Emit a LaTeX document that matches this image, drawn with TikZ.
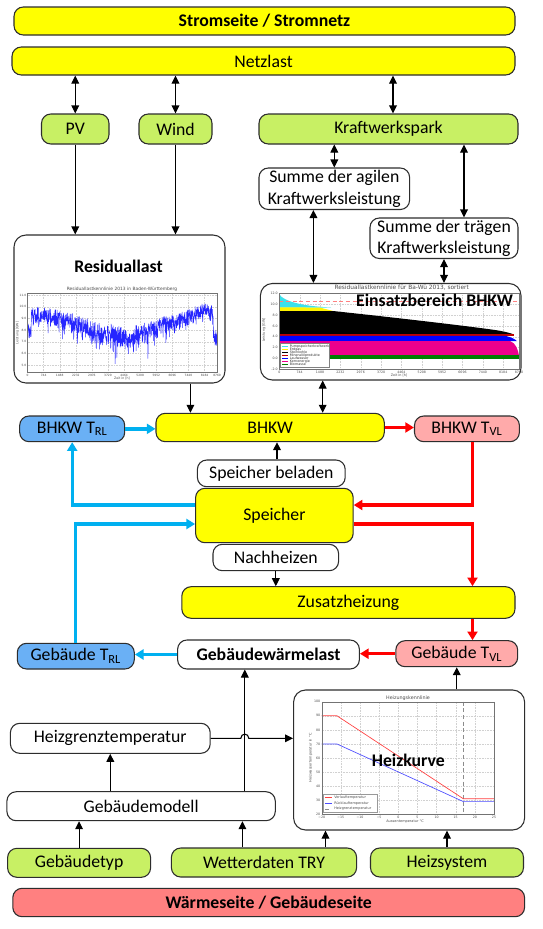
\documentclass[tikz,border=0pt]{standalone}
\usepackage{fontspec}
\setmainfont{Carlito}
\newfontfamily\plotfont{DejaVu Sans}
\usetikzlibrary{arrows.meta,calc}
\definecolor{cYel}{RGB}{255,255,0}
\definecolor{cGrn}{RGB}{200,240,100}
\definecolor{cBlu}{RGB}{106,176,245}
\definecolor{cPnk}{RGB}{255,170,170}
\definecolor{cSal}{RGB}{255,128,128}
\definecolor{cCya}{RGB}{0,176,240}
\definecolor{cRed}{RGB}{255,0,0}
\definecolor{cBrd}{RGB}{45,45,45}
\definecolor{pCyan}{RGB}{60,225,235}
\definecolor{pRed}{RGB}{190,0,0}
\definecolor{pGreen}{RGB}{0,125,0}
\newcommand\fs{\fontsize{13.3}{16.3}\selectfont}
\newcommand\PlF[1]{\plotfont\fontsize{#1}{#1}\selectfont}
\newcommand\PBx[7]{\node[#2, minimum width={(#5-#3)*0.75pt}, minimum height={(#6-#4)*0.75pt}] (#1) at ({(#3+#5)/2},{(#4+#6)/2}) {#7};}
\begin{document}
\begin{tikzpicture}[x=0.75pt,y=-0.75pt,
  bx/.style={draw=cBrd, line width=0.8pt, rounded corners=7pt, inner sep=0pt, align=center, font=\fs},
  bxb/.style={bx, font=\fs\bfseries},
  chartbox/.style={bx, rounded corners=9pt, fill=white},
  arr/.style={draw=black, line width=0.8pt, -{Triangle[width=5.8pt,length=6pt]}},
  darr/.style={draw=black, line width=0.8pt, {Triangle[width=5.8pt,length=6pt]}-{Triangle[width=5.8pt,length=6pt]}},
  carr/.style={draw=cCya, line width=2.5pt, -{Triangle[width=7.5pt,length=6.5pt]}},
  rarr/.style={draw=cRed, line width=2.5pt, -{Triangle[width=7.5pt,length=6.5pt]}},
  gridl/.style={draw=black!18, line width=0.2pt, densely dotted},
  frame/.style={draw=black!55, line width=0.3pt},
  tick/.style={inner sep=0pt, text=black!70},
  bigtitle/.style={inner sep=0pt, font=\fs\bfseries},
  declare function={
    resu(\t)=0.15+0.24*exp(-((\t-0.5)/0.27)*((\t-0.5)/0.27))-0.06*exp(-((\t-0.92)/0.05)*((\t-0.92)/0.05))+0.3*(\t>0.98)+0.22*(\t<0.02);
    resd(\t)=0.42+0.2*exp(-((\t-0.5)/0.25)*((\t-0.5)/0.25));
  }]
\useasboundingbox (0,0) rectangle (543,929);
\fill[white] (0,0) rectangle (543,929);

% ---------- nodes ----------
\PBx{strom}{bxb,fill=cYel}{14}{7}{515}{35}{Stromseite / Stromnetz}
\PBx{netz}{bx,fill=cYel}{12}{47}{515}{75}{Netzlast}
\PBx{pv}{bx,fill=cGrn}{41.5}{114}{109}{144}{PV}
\PBx{wind}{bx,fill=cGrn}{139}{114}{212}{144}{Wind}
\PBx{kw}{bx,fill=cGrn}{259}{114}{518}{144}{Kraftwerkspark}
\PBx{agil}{bx,fill=white}{259}{168}{409.6}{209.5}{Summe der agilen\\Kraftwerksleistung}
\PBx{traeg}{bx,fill=white}{370}{218}{518}{258.5}{Summe der trägen\\Kraftwerksleistung}
\PBx{res}{chartbox}{14}{235}{225}{383}{}
\PBx{eins}{chartbox}{260.4}{283.5}{521}{380}{}
\PBx{bhkw}{bx,fill=cYel}{156}{413.3}{384.3}{441.7}{BHKW}
\PBx{btrl}{bx,fill=cBlu}{19.7}{416}{124.7}{441.7}{BHKW T\textsubscript{RL}}
\PBx{btvl}{bx,fill=cPnk}{414.5}{416}{519.4}{441.7}{BHKW T\textsubscript{VL}}
\PBx{belad}{bx,fill=white}{197.4}{460}{345.2}{486.7}{Speicher beladen}
\PBx{spei}{bx,fill=cYel}{195.6}{488.3}{353.2}{542.7}{Speicher}
\PBx{nach}{bx,fill=white}{213}{544.3}{338.6}{570.7}{Nachheizen}
\PBx{zus}{bx,fill=cYel}{181.8}{586.7}{515}{618.3}{Zusatzheizung}
\PBx{gtvl}{bx,fill=cPnk}{395.8}{640.7}{517.7}{666.7}{Gebäude T\textsubscript{VL}}
\PBx{gwl}{bxb,fill=white}{177.6}{640}{359.4}{669}{Gebäudewärmelast}
\PBx{gtrl}{bx,fill=cBlu}{17.3}{643.3}{134.3}{669}{Gebäude T\textsubscript{RL}}
\PBx{hk}{chartbox}{293.6}{690}{524.6}{830}{}
\PBx{hgt}{bx,fill=white}{10.4}{723.3}{210.2}{753.3}{Heizgrenztemperatur}
\PBx{gm}{bx,fill=white}{6.9}{791.7}{275.3}{820.7}{Gebäudemodell}
\PBx{gtyp}{bx,fill=cGrn}{7.6}{848.3}{150.6}{877.3}{Gebäudetyp}
\PBx{wet}{bx,fill=cGrn}{171.4}{848}{356.6}{877}{Wetterdaten TRY}
\PBx{hsys}{bx,fill=cGrn}{370.5}{848}{523.5}{877}{Heizsystem}
\PBx{waerme}{bxb,fill=cSal}{12.8}{888.3}{524.6}{916.7}{Wärmeseite / Gebäudeseite}

% ---------- chart: Residuallast ----------
\pgfmathsetseed{11}
\foreach \h in {0,744,1488,2232,2976,3720,4464,5208,5952,6696,7440,8184,8760}{
  \draw[gridl] ({27.5+(\h/8760)*189.5},293.5) -- ++(0,79);
  \node[tick,font=\PlF{2.2}] at ({27.5+(\h/8760)*189.5},375) {\h};
}
\foreach \v [count=\i from 0] in {11.0,10.0,9.0,8.0,7.0,6.0,5.0}{
  \draw[gridl] (27.5,{295+11.67*\i}) -- (217,{295+11.67*\i});
  \node[tick,font=\PlF{2.2},anchor=east] at (26.5,{295+11.67*\i}) {\v};
}
\draw[blue!85!white, line width=0.35pt] plot[domain=0:1, samples=800, variable=\t]
  ({27.5+189.5*\t},{293.5+79*min(0.97, resu(\t)+resd(\t)*(0.45*rnd+0.55*rnd*rnd*rnd))});
\draw[frame] (27.5,293.5) rectangle (217,372.5);
\node[tick,font=\PlF{3.3}] at (122,289.5) {Residuallastkennlinie 2013 in Baden-Württemberg};
\node[tick,font=\PlF{2.4}] at (122,378) {Zeit in [h]};
\node[tick,font=\PlF{2.4},rotate=90] at (17.5,333) {Leistung [GW]};
\node[bigtitle] (restitle) at (118.5,266.7) {Residuallast};

% ---------- chart: Einsatzbereich ----------
\foreach \h in {0,744,1488,2232,2976,3720,4464,5208,5952,6696,7440,8184,8760}{
  \draw[gridl] ({279.3+(\h/8760)*239.7},293.3) -- ++(0,76);
  \node[tick,font=\PlF{2.4}] at ({279.3+(\h/8760)*239.7},372.3) {\h};
}
\foreach \v [count=\i from 0] in {12.0,10.0,8.0,6.0,4.0,2.0,0.0,-2.0}{
  \draw[gridl] (279.3,{293.3+10.86*\i}) -- (519,{293.3+10.86*\i});
  \node[tick,font=\PlF{2.4},anchor=east] at (278,{293.3+10.86*\i}) {\v};
}
\fill[pCyan] (279.3,294.5) .. controls (284,301) and (300,306) .. (331,307.5) -- (279.3,307.5) -- cycle;
\fill[yellow] (279.3,307.3) -- (320,307.6) -- (334,311.2) -- (279.3,311.2) -- cycle;
\fill[black] (279.3,311) -- (333,311) .. controls (380,316) and (460,325) .. (495,330) .. controls (505,331.5) and (510,333) .. (514,334.5) -- (279.3,334.5) -- cycle;
\fill[pRed] (279.3,334.3) rectangle (514,336);
\fill[blue] (279.3,335.8) -- (505,335.8) .. controls (511,337) and (515,339) .. (517,341.2) -- (279.3,341.2) -- cycle;
\fill[magenta] (279.3,341) -- (510,341) .. controls (516,343) and (518,350) .. (519,355.5) -- (279.3,355.5) -- cycle;
\fill[pGreen] (279.3,355.3) rectangle (519,358.6);
\draw[red!50, line width=0.3pt, densely dashed] (279.3,301) -- (519,301);
\draw[frame] (279.3,293.3) rectangle (519,369.3);
\draw[black!50, line width=0.2pt, fill=white] (280.5,343.5) rectangle (329.5,367.5);
\foreach \c/\n [count=\i from 0] in {pCyan/Pumpspeicherkraftwerk,yellow/Erdgas,black/Steinkohle,pRed/Mineralölprodukte,blue/Laufwasser,magenta/Kernenergie,pGreen/Biomasse}{
  \fill[\c] (282,{345.5+3*\i}) rectangle (288,{347+3*\i});
  \node[tick,font=\PlF{2.5},anchor=west,text=black!80] at (289.5,{346.3+3*\i}) {\n};
}
\node[tick,font=\PlF{4.4}] at (401.7,287.3) {Residuallastkennlinie für Ba-Wü 2013, sortiert};
\node[tick,font=\PlF{2.5}] at (399,375.6) {Zeit in [h]};
\node[tick,font=\PlF{2.5},rotate=90] at (264,330) {Leistung [GW]};
\node[bigtitle] (einstitle) at (434.6,300.7) {Einsatzbereich BHKW};

% ---------- chart: Heizkurve ----------
\foreach \T in {-20,-15,-10,-5,0,5,10,15,20,25}{
  \draw[gridl] ({321.7+(\T+20)*3.829},701.7) -- ++(0,112.6);
}
\foreach \T/\L in {-20/−20,-15/−15,-10/−10,-5/−5,0/0,5/5,10/10,15/15,20/20,25/25}{
  \node[tick,font=\PlF{2.4}] at ({321.7+(\T+20)*3.829},817.6) {\L};
}
\foreach \V in {20,30,40,50,60,70,80,90,100}{
  \draw[gridl] (321.7,{814.3-(\V-20)*1.4075}) -- (494,{814.3-(\V-20)*1.4075});
  \node[tick,font=\PlF{2.4},anchor=east] at (320.5,{814.3-(\V-20)*1.4075}) {\V};
}
\draw[black!45, line width=0.4pt, densely dashed] (463.4,701.7) -- (463.4,814.3);
\draw[red!75, line width=0.5pt] (321.7,715.8) -- (337,715.8) -- (463.4,798.8) -- (494,798.8);
\draw[blue!70, line width=0.5pt] (321.7,744) -- (337,744) -- (463.4,801.6) -- (494,801.6);
\draw[frame] (321.7,701.7) rectangle (494,814.3);
\draw[black!40, line width=0.2pt, fill=white] (323,794.5) rectangle (377,812.5);
\draw[red!75, line width=0.4pt] (325,797.7) -- (331.5,797.7);
\draw[blue!70, line width=0.4pt] (325,803.3) -- (331.5,803.3);
\draw[black!45, line width=0.4pt, densely dashed] (325,809) -- (331.5,809);
\node[tick,font=\PlF{2.6},anchor=west] at (334,797.7) {Vorlauftemperatur};
\node[tick,font=\PlF{2.6},anchor=west] at (334,803.3) {Rücklauftemperatur};
\node[tick,font=\PlF{2.6},anchor=west] at (334,809) {Heizgrenztemperatur};
\node[tick,font=\PlF{3.6}] at (408,697.7) {Heizungskennlinie};
\node[tick,font=\PlF{2.6}] at (405,821.7) {Aussentemperatur °C};
\node[tick,font=\PlF{2.6},rotate=90] at (310.7,758) {Heizwassertemperatur in °C};
\node[bigtitle] (hktitle) at (408.3,760) {Heizkurve};

% ---------- helper coordinates ----------
\coordinate (X1) at (393,0);
\coordinate (X2) at (464,0);
\coordinate (X3) at (313.4,0);
\coordinate (X4) at (190.4,0);
\coordinate (X5) at (322.7,0);
\coordinate (X6) at (277,0);
\coordinate (X7) at (244.8,0);
\coordinate (X8) at (242.4,0);
\coordinate (X9) at (325.5,0);
\coordinate (X10) at (472.5,0);
\coordinate (Y1) at (0,505);
\coordinate (Y2) at (0,524);

% ---------- black connectors ----------
\draw[darr] (netz.south -| pv.north) -- (pv.north);
\draw[darr] (netz.south -| wind.north) -- (wind.north);
\draw[darr] (netz.south -| X1) -- (kw.north -| X1);
\draw[darr] (kw.south -| agil.north) -- (agil.north);
\draw[darr] (kw.south -| X2) -- (traeg.north -| X2);
\draw[darr] (agil.south -| X3) -- (eins.north -| X3);
\draw[darr] (traeg.south) -- (eins.north -| traeg.south);
\draw[arr] (pv.south) -- (res.north -| pv.south);
\draw[arr] (wind.south) -- (res.north -| wind.south);
\draw[arr] (res.south -| X4) -- (bhkw.north -| X4);
\draw[darr] (eins.south -| X5) -- (bhkw.north -| X5);
\draw[arr] (belad.north -| X6) -- (bhkw.south -| X6);
\draw[arr] (nach.south) -- (zus.north -| nach.south);
\draw[arr] (hk.north -| gtvl.south) -- (gtvl.south);
\draw[arr] (gm.north -| hgt.south) -- (hgt.south);
\draw[arr] (gm.north -| X7) -- (gwl.south -| X7);
\draw[arr] (gtyp.north) -- (gm.south -| gtyp.north);
\draw[arr] (wet.north -| X8) -- (gm.south -| X8);
\draw[arr] (wet.north -| X9) -- (hk.south -| X9);
\draw[arr] (hsys.north) -- (hk.south -| hsys.north);
\coordinate (J) at (hgt.east -| X7);
\draw[arr] (hgt.east) -- ($(J)+(-4,0)$) .. controls ($(J)+(-4,-5.5)$) and ($(J)+(4,-5.5)$) .. ($(J)+(4,0)$) -- (hk.west |- hgt.east);

% ---------- coloured connectors ----------
\draw[carr] (btrl.east) -- (bhkw.west |- btrl.east);
\draw[carr] (spei.west |- Y1) -- (btrl.south |- Y1) -- (btrl.south);
\draw[carr] (gtrl.north) -- (gtrl.north |- Y2) -- (spei.west |- Y2);
\draw[carr] (gwl.west) -- (gtrl.east |- gwl.west);
\draw[rarr] (bhkw.east) -- (btvl.west |- bhkw.east);
\draw[rarr] (btvl.south -| X10) -- (X10 |- Y1) -- (spei.east |- Y1);
\draw[rarr] (spei.east |- Y2) -- (X10 |- Y2) -- (zus.north -| X10);
\draw[rarr] (zus.south -| X10) -- (gtvl.north -| X10);
\draw[rarr] (gtvl.west) -- (gwl.east |- gtvl.west);
\end{tikzpicture}
\end{document}
